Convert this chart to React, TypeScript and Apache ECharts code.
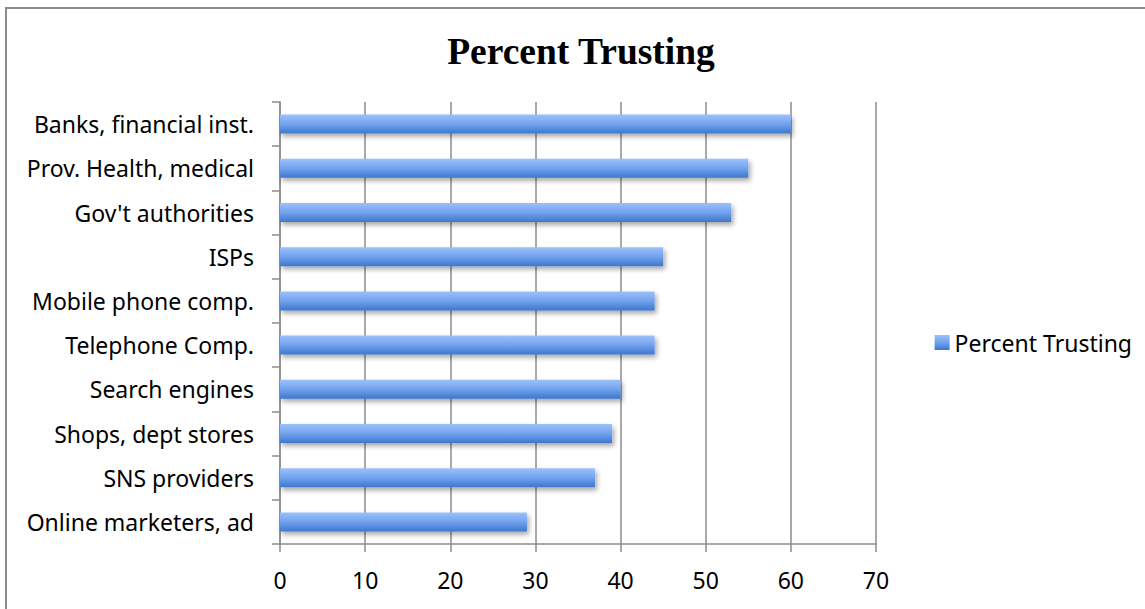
import React, { useEffect, useRef } from "react";
import * as echarts from "echarts";

const categories = [
  "Banks, financial inst.",
  "Prov. Health, medical",
  "Gov't authorities",
  "ISPs",
  "Mobile phone comp.",
  "Telephone Comp.",
  "Search engines",
  "Shops, dept stores",
  "SNS providers",
  "Online marketers, ad",
];
const percentTrusting = [60, 55, 53, 45, 44, 44, 40, 39, 37, 29];
const seriesName = "Percent Trusting";
const titleText = "Percent Trusting";

export default function App() {
  const ref = useRef<HTMLDivElement>(null);
  useEffect(() => {
    if (!ref.current) return;
    const chart = echarts.init(ref.current, undefined, { renderer: "svg" });
    const grey = "#8c8c8c";
    chart.setOption({
      animation: false,
      backgroundColor: "#ffffff",
      title: {
        text: titleText,
        left: 576,
        top: 27,
        textAlign: "center",
        textStyle: {
          fontFamily: "Liberation Serif",
          fontWeight: "bold",
          fontSize: 37.5,
          color: "#000",
        },
      },
      legend: {
        right: 8,
        top: 326,
        orient: "vertical",
        icon: "rect",
        itemWidth: 15,
        itemHeight: 15,
        itemGap: 6,
        data: [seriesName],
        textStyle: { fontFamily: "Noto Sans", fontSize: 23, color: "#000" },
      },
      graphic: [
        {
          type: "polyline",
          shape: { points: [[6, 620], [6, 8], [1150, 8]] },
          style: { stroke: grey, lineWidth: 2, fill: "none" },
          silent: true,
        },
      ],
      grid: { left: 280, right: 269, top: 102, bottom: 65, containLabel: false },
      xAxis: {
        type: "value",
        min: 0,
        max: 70,
        interval: 10,
        axisLine: { show: true, lineStyle: { color: grey, width: 1.5 } },
        axisTick: { show: true, length: 8, lineStyle: { color: grey, width: 1.5 } },
        splitLine: { show: true, lineStyle: { color: grey, width: 1.5 } },
        axisLabel: {
          margin: 24,
          fontFamily: "Noto Sans",
          fontSize: 23,
          color: "#000",
        },
      },
      yAxis: {
        type: "category",
        inverse: true,
        data: categories,
        axisLine: { show: true, lineStyle: { color: grey, width: 1.5 } },
        axisTick: { show: true, length: 8, alignWithLabel: false, lineStyle: { color: grey, width: 1.5 } },
        axisLabel: {
          margin: 26,
          fontFamily: "Noto Sans",
          fontSize: 23,
          color: "#000",
        },
      },
      series: [
        {
          name: seriesName,
          type: "bar",
          data: percentTrusting,
          barWidth: 19,
          itemStyle: {
            color: new echarts.graphic.LinearGradient(0, 0, 0, 1, [
              { offset: 0, color: "#9cc1fb" },
              { offset: 0.5, color: "#72a2ee" },
              { offset: 1, color: "#3d77cc" },
            ]),
            shadowColor: "rgba(0,0,0,0.35)",
            shadowBlur: 5,
            shadowOffsetX: 2,
            shadowOffsetY: 3,
          },
        },
      ],
    });
    return () => chart.dispose();
  }, []);
  return (
    <div
      ref={ref}
      style={{ position: "fixed", left: 0, top: 0, width: 1145, height: 609 }}
    />
  );
}
